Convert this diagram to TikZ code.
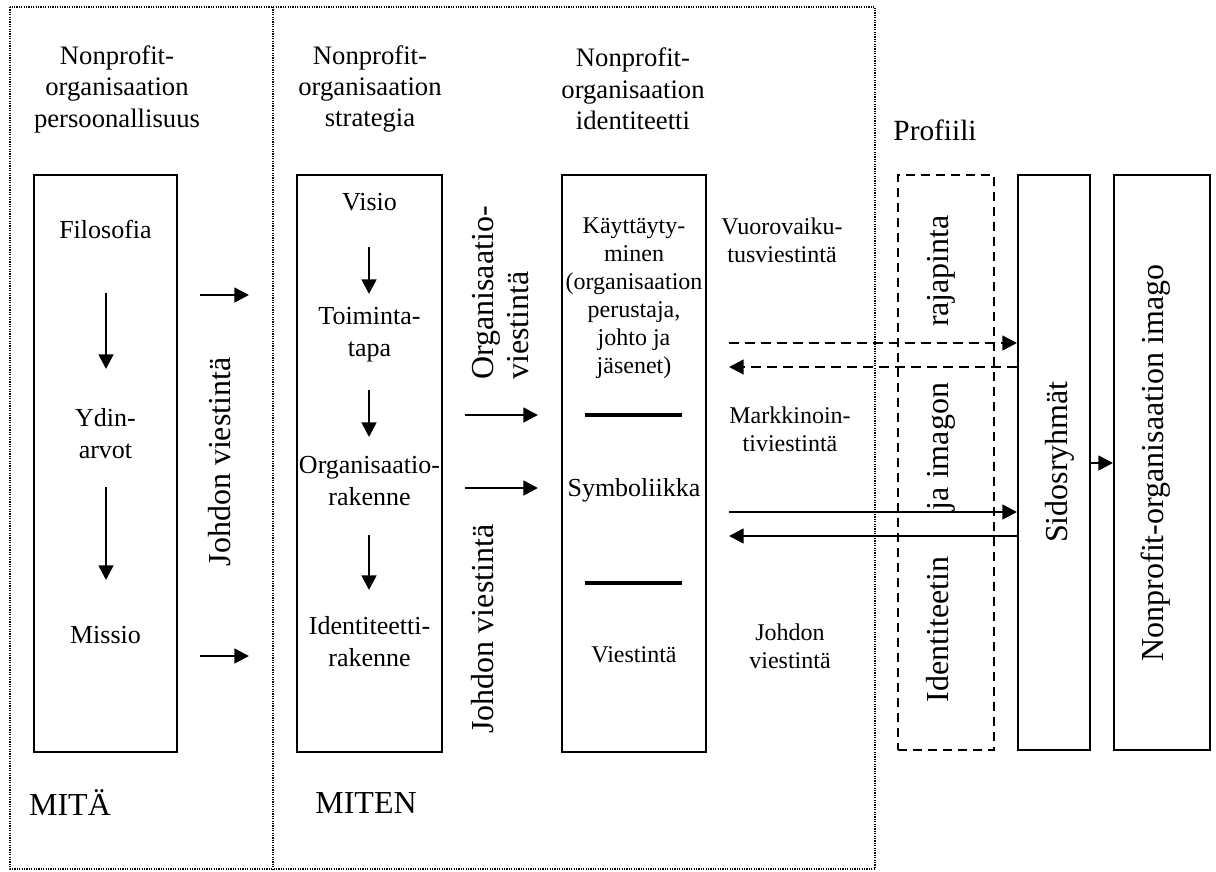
\documentclass[tikz,border=0pt]{standalone}
\usepackage{fontspec}
\setmainfont{Liberation Serif}
\usetikzlibrary{arrows.meta}
\tikzset{
  frameline/.style={line width=0.9pt, dash pattern=on 0.9pt off 0.9pt},
  bx/.style={draw, line width=1.5pt, inner sep=0pt},
  dbx/.style={draw, line width=1.5pt, inner sep=0pt, dash pattern=on 6.75pt off 4.5pt},
  arr/.style={line width=2pt, -{Triangle[length=11pt,width=11pt]}},
  darr/.style={line width=1.8pt, dash pattern=on 7.5pt off 4.5pt, -{Triangle[length=11pt,width=11pt]}},
  sepline/.style={line width=2.4pt},
  hdr/.style={inner sep=0pt, align=center, font=\fontsize{20}{23.6}\selectfont},
  btxt/.style={inner sep=0pt, align=center, font=\fontsize{19.5}{24}\selectfont},
  stxt/.style={inner sep=0pt, align=center, font=\fontsize{18}{21}\selectfont},
  rtxt/.style={inner sep=0pt, rotate=90, anchor=base, font=\fontsize{24}{28}\selectfont},
  big/.style={inner sep=0pt, font=\fontsize{24}{28}\selectfont},
}
\begin{document}
\begin{tikzpicture}[x=0.75pt,y=-0.75pt]
\useasboundingbox (0,0) rectangle (1216,871);
% outer dotted frame
\draw[frameline] (10,7) rectangle (875,869);
\draw[frameline] (273,7) -- (273,869);

% headers
\node[hdr] (h1) at (117,89) {Nonprofit-\\organisaation\\persoonallisuus};
\node[hdr] (h2) at (370,89) {Nonprofit-\\organisaation\\strategia};
\node[hdr] (h3) at (633,89) {Nonprofit-\\organisaation\\identiteetti};
\node[inner sep=0pt, font=\fontsize{22}{26}\selectfont] (prof) at (935,130) {Profiili};

% boxes
\node[bx, minimum width=107.25pt, minimum height=432.75pt] (b1) at (105.5,463.5) {};
\node[bx, minimum width=108.75pt, minimum height=432.75pt] (b2) at (369.5,463.5) {};
\node[bx, minimum width=108pt, minimum height=432.75pt] (b3) at (634,463.5) {};
\node[dbx, minimum width=72pt, minimum height=431.25pt] (rp) at (946,462.5) {};
\node[bx, minimum width=54pt, minimum height=431.25pt] (sid) at (1054,462.5) {};
\node[bx, minimum width=72pt, minimum height=431.25pt] (img) at (1162,462.5) {};

% box 1 content
\node[btxt] (filo) at (105.5,229) {Filosofia};
\node[btxt] (ydin) at (105.5,434) {Ydin-\\arvot};
\node[btxt] (miss) at (105.5,635) {Missio};
\coordinate (a1s) at (106,293); \coordinate (a1e) at (106,369);
\coordinate (a2s) at (106,487); \coordinate (a2e) at (106,580);
\draw[arr] (a1s) -- (a1e);
\draw[arr] (a2s) -- (a2e);

% box 2 content
\node[btxt] (vis) at (369.5,202) {Visio};
\node[btxt] (toim) at (369.5,335) {Toiminta-\\tapa};
\node[btxt] (orgr) at (369.5,481) {Organisaatio-\\rakenne};
\node[btxt] (idr) at (369.5,642) {Identiteetti-\\rakenne};
\coordinate (v1s) at (369,247); \coordinate (v1e) at (369,294);
\coordinate (v2s) at (369,390); \coordinate (v2e) at (369,437);
\coordinate (v3s) at (369,535); \coordinate (v3e) at (369,590);
\draw[arr] (v1s) -- (v1e);
\draw[arr] (v2s) -- (v2e);
\draw[arr] (v3s) -- (v3e);

% box 3 content
\node[stxt] (kay) at (634,298) {Käyttäyty-\\minen\\(organisaation\\perustaja,\\johto ja\\jäsenet)};
\node[btxt] (sym) at (634,490) {Symboliikka};
\node[stxt] (vie) at (634,655) {Viestintä};
\draw[sepline] (585,415) -- (682,415);
\draw[sepline] (585,583) -- (682,583);

% between col1 and col2
\coordinate (p1) at (200,295); \coordinate (p2) at (200,656);
\coordinate (p1e) at (249,295); \coordinate (p2e) at (249,656);
\draw[arr] (p1) -- (p1e);
\draw[arr] (p2) -- (p2e);
\node[rtxt] (jv1) at (230,462) {Johdon viestintä};

% between col2 and col3
\coordinate (q1) at (465,415); \coordinate (q2) at (465,488);
\coordinate (q1e) at (538,415); \coordinate (q2e) at (538,488);
\draw[arr] (q1) -- (q1e);
\draw[arr] (q2) -- (q2e);
\node[inner sep=0pt, rotate=90, anchor=base west, font=\fontsize{24}{28}\selectfont] (ov1) at (493,380) {Organisaatio-};
\node[inner sep=0pt, rotate=90, anchor=base west, font=\fontsize{24}{28}\selectfont] (ov2) at (528,380) {viestintä};
\node[rtxt] (jv2) at (493,629) {Johdon viestintä};

% right labels
\node[stxt] (vuo) at (782,240) {Vuorovaiku-\\tusviestintä};
\node[stxt] (mar) at (790,429) {Markkinoin-\\tiviestintä};
\node[stxt] (joh) at (790,646) {Johdon\\viestintä};

% arrows to stakeholders
\coordinate (r1) at (729,343); \coordinate (r2) at (729,367);
\coordinate (r3) at (729,512); \coordinate (r4) at (729,536);
\draw[darr] (r1) -- (r1 -| sid.west);
\draw[darr] (r2 -| sid.west) -- (r2);
\draw[arr] (r3) -- (r3 -| sid.west);
\draw[arr] (r4 -| sid.west) -- (r4);
\coordinate (s1) at (1090,463);
\draw[arr] (s1) -- (s1 -| img.west);

% rotated texts in right boxes
\node[rtxt] (rp1) at (948,629.5) {Identiteetin};
\node[rtxt] (rp2) at (948,446.5) {ja imagon};
\node[rtxt] (rp3) at (948,271) {rajapinta};
\node[rtxt] (sidt) at (1067,462) {Sidosryhmät};
\node[rtxt] (imgt) at (1163,463) {Nonprofit-organisaation imago};

% bottom labels
\node[big] (mita) at (70,803) {MITÄ};
\node[big] (miten) at (366,803) {MITEN};
\end{tikzpicture}
\end{document}
